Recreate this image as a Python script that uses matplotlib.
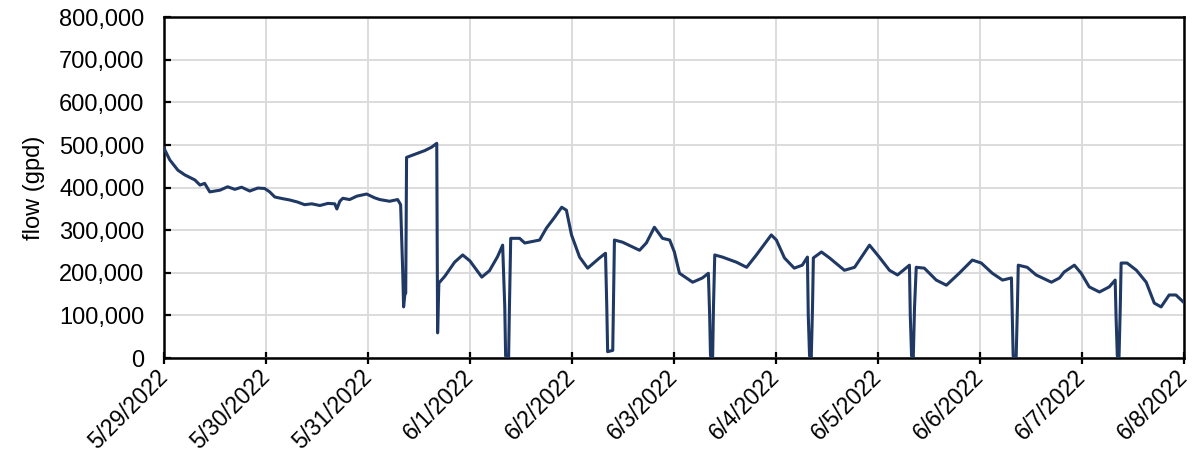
import datetime as dt
import matplotlib
matplotlib.use("Agg")
import matplotlib.pyplot as plt
import matplotlib.dates as mdates
from matplotlib.ticker import FuncFormatter, MultipleLocator

plt.rcParams['font.family'] = ['Liberation Sans', 'DejaVu Sans']

# hours since 5/29/2022 00:00
hours = [0.0, 1.4, 3.3, 4.9, 7.3, 8.5, 9.6, 10.8, 13.2, 15.0, 16.7, 18.3, 20.2, 22.1, 23.7,
         24.9, 26.1, 28.0, 29.6, 31.5, 33.1, 34.8, 36.7, 38.6, 40.2, 40.7, 41.4, 42.1, 43.7,
         45.4, 47.7, 49.6, 50.8, 53.1, 55.0, 55.7, 56.2, 56.4, 56.7, 56.9, 57.1, 59.0, 61.4,
         63.0, 64.2, 64.4, 64.7, 66.1, 68.4, 70.3, 72.0, 74.8, 76.6, 78.5, 79.7, 80.2, 80.4,
         81.1, 81.3, 81.6, 83.7, 84.9, 88.4, 90.0, 91.9, 93.6, 94.7, 95.9, 97.8, 99.7, 102.5,
         103.9, 104.2, 104.4, 105.6, 105.8, 106.0, 107.9, 111.9, 113.5, 115.4, 117.3, 119.0,
         120.1, 121.3, 124.4, 126.7, 128.1, 128.4, 128.6, 129.1, 129.3, 129.6, 131.4, 134.7,
         137.1, 139.4, 142.9, 144.1, 146.0, 148.3, 150.2, 151.4, 151.6, 151.9, 152.3, 152.6,
         152.8, 154.7, 156.6, 160.1, 162.5, 166.0, 168.3, 170.7, 172.6, 175.4, 175.6, 175.9,
         176.3, 176.6, 177.0, 178.9, 181.7, 184.1, 187.1, 190.2, 192.3, 194.9, 197.3, 199.4,
         199.6, 199.8, 200.5, 200.8, 201.0, 203.1, 205.2, 208.8, 210.7, 211.8, 214.2, 215.8,
         217.7, 220.1, 222.4, 223.8, 224.0, 224.3, 224.7, 225.0, 225.2, 226.6, 228.8, 231.1,
         233.0, 234.6, 236.5, 238.1, 240.0]

# flow in thousand gpd
flow_k = [493, 465, 441, 430, 418, 406, 410, 390, 394, 402, 396, 401, 392, 399, 398,
          390, 378, 374, 371, 366, 360, 362, 358, 363, 362, 350, 368, 375, 372,
          380, 385, 376, 372, 368, 372, 360, 200, 120, 150, 152, 471, 478, 487,
          495, 504, 59, 176, 192, 225, 242, 228, 190, 205, 238, 265, 120, 5,
          0, 120, 281, 281, 270, 277, 305, 330, 354, 347, 289, 237, 211, 235,
          246, 120, 15, 18, 140, 277, 272, 253, 270, 307, 281, 277,
          249, 199, 178, 188, 199, 100, 5, 0, 120, 242, 237, 225,
          213, 242, 289, 277, 235, 211, 218, 237, 100, 5, 0, 120,
          235, 249, 235, 206, 213, 265, 237, 206, 195, 218, 100, 5,
          0, 120, 213, 211, 183, 171, 199, 230, 223, 199, 183, 188,
          100, 5, 0, 120, 218, 213, 195, 178, 188, 202, 218, 199,
          167, 155, 167, 183, 100, 5, 0, 120, 223, 223, 206, 178,
          129, 120, 148, 148, 130]

start = dt.datetime(2022, 5, 29)
end = dt.datetime(2022, 6, 8)
times = [start + dt.timedelta(hours=h) for h in hours]
flow = [v * 1000 for v in flow_k]

fig = plt.figure(figsize=(11.96, 4.65), dpi=100)
ax = fig.add_axes([0.137, 0.230, 0.853, 0.733])

ax.plot(times, flow, color='#1f3864', lw=2.2, zorder=3)

ax.set_xlim(start, end)
ax.set_ylim(0, 800000)
ax.xaxis.set_major_locator(mdates.DayLocator())
ax.xaxis.set_major_formatter(FuncFormatter(
    lambda v, pos: (lambda d: f"{d.month}/{d.day}/{d.year}")(mdates.num2date(v))))
ax.yaxis.set_major_locator(MultipleLocator(100000))
ax.yaxis.set_major_formatter(FuncFormatter(lambda v, pos: f"{int(v):,}"))

ax.grid(True, color='#d9d9d9', lw=1.3, zorder=0)
for s in ax.spines.values():
    s.set_linewidth(1.8)
    s.set_color('black')

ax.tick_params(axis='x', direction='inout', length=9, width=1.6, labelsize=16.5, pad=7)
ax.tick_params(axis='y', direction='in', length=5, width=1.6, labelsize=17, pad=14)
for lbl in ax.get_xticklabels():
    lbl.set_rotation(45)
    lbl.set_ha('right')
    lbl.set_va('center')
    lbl.set_rotation_mode('anchor')

ax.set_ylabel('flow (gpd)', fontsize=17, labelpad=10)

fig.savefig('out.png', dpi=100)
